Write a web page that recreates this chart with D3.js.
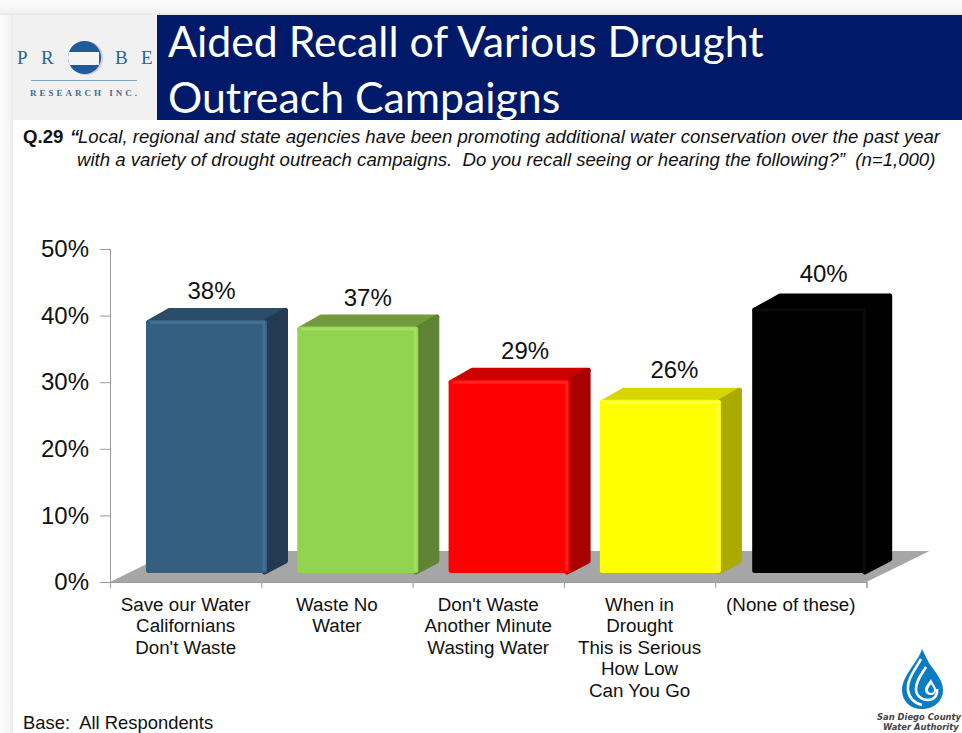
<!DOCTYPE html>
<html><head><meta charset="utf-8">
<script src="https://cdn.jsdelivr.net/npm/d3@7"></script>
<style>html,body{margin:0;padding:0;background:#fff;overflow:hidden}svg{display:block}text{font-family:"Liberation Sans",Arial,sans-serif;fill:#111;white-space:pre}</style>
</head><body><svg id="c" width="962" height="733"></svg>
<script>
const categories=[["Save our Water","Californians","Don't Waste"],["Waste No","Water"],["Don't Waste","Another Minute","Wasting Water"],["When in","Drought","This is Serious","How Low","Can You Go"],["(None of these)"]];
const values=[38,37,29,26,40];
const yTicks=[0,10,20,30,40,50];
const palette=[
 {front:"#355f80",top:"#2b4c69",side:"#243a53",hi:"#4a7396"},
 {front:"#92d350",top:"#739a3c",side:"#5f8433",hi:"#a9e566"},
 {front:"#ff0000",top:"#cc0000",side:"#a80000",hi:"#ff2a2a"},
 {front:"#ffff00",top:"#d6d600",side:"#aaaa00",hi:"#ffff50"},
 {front:"#000000",top:"#000000",side:"#000000",hi:"#0e0e0e"}];
const labelShift=[5,10,16,14,14];
const labelLift=[21,21,21,22,26];
const titleLines=["Aided Recall of Various Drought","Outreach Campaigns"];
const questionLines=["Local, regional and state agencies have been promoting additional water conservation over the past year","with a variety of drought outreach campaigns.  Do you recall seeing or hearing the following?”  (n=1,000)"];

const svg=d3.select("#c");
const defs=svg.append("defs");
const g1=defs.append("linearGradient").attr("id","fadeT").attr("x1",0).attr("x2",0).attr("y1",0).attr("y2",1);
g1.append("stop").attr("offset",0).attr("stop-color","#fbfbfb");g1.append("stop").attr("offset",.8).attr("stop-color","#f3f3f3");g1.append("stop").attr("offset",1).attr("stop-color","#e6e6e6");
const g2=defs.append("linearGradient").attr("id","fadeL");
g2.append("stop").attr("offset",0).attr("stop-color","#fdfdfd");g2.append("stop").attr("offset",.75).attr("stop-color","#f4f4f4");g2.append("stop").attr("offset",1).attr("stop-color","#e8e8e8");
defs.append("clipPath").attr("id","ball").append("circle").attr("cx",84.5).attr("cy",57.5).attr("r",16.5);

// page frame
svg.append("rect").attr("width",13).attr("height",733).attr("fill","url(#fadeL)");
svg.append("rect").attr("x",0).attr("width",962).attr("height",15).attr("fill","url(#fadeT)");
// header
svg.append("rect").attr("x",13).attr("y",15).attr("width",144).attr("height",105).attr("fill","#f1f1f1");
svg.append("rect").attr("x",157).attr("y",15).attr("width",805).attr("height",105).attr("fill","#001a69");
svg.selectAll("text.t").data(titleLines).join("text").attr("class","t").attr("x",168).attr("y",(d,i)=>57+i*56)
  .text(d=>d).style("font-family","Lato").style("font-size","42.8px").style("fill","#fff");

// probe logo
const logo=svg.append("g");
[["P",17],["R",41],["B",115],["E",141]].forEach(([s,x])=>logo.append("text").attr("x",x).attr("y",64).text(s)
  .style("font-family","Liberation Serif").style("font-size","19px").style("fill","#2a6496"));
logo.append("circle").attr("cx",86).attr("cy",58).attr("r",17).attr("fill","#c9c8e0");
logo.append("circle").attr("cx",84.5).attr("cy",57.5).attr("r",16.5).attr("fill","#1f5b99");
logo.append("rect").attr("x",66).attr("y",52).attr("width",33).attr("height",13).attr("fill","#f4f4f4").attr("clip-path","url(#ball)");
logo.append("line").attr("x1",31).attr("x2",137).attr("y1",80.5).attr("y2",80.5).attr("stroke","#7fa6cb");
logo.append("text").attr("x",30).attr("y",96).text("RESEARCH INC.").style("font-family","Liberation Serif").style("font-weight","bold").style("font-size","9px").style("letter-spacing","3px").style("fill","#4a6a96");

// question
svg.append("text").attr("x",23).attr("y",143).text("Q.29").style("font-weight","bold").style("font-size","18.6px");
svg.append("text").attr("x",70).attr("y",143).text("“").style("font-weight","bold").style("font-style","italic").style("font-size","18.6px");
svg.selectAll("text.q").data(questionLines).join("text").attr("class","q").attr("x",(d,i)=>i?77:78).attr("y",(d,i)=>143+i*23)
  .text(d=>d).style("font-style","italic").style("font-size","18.6px");

// scales
const y=d3.scaleLinear().domain([0,50]).range([582,249]);
const x=d3.scaleBand().domain(d3.range(values.length)).range([110,866.5]);
const floorDx=63,floorDy=31,barInset=36,barW=121,lift=9;

// floor
svg.append("path").attr("d",d3.line()([[x.range()[0],y(0)],[x.range()[1],y(0)],[x.range()[1]+floorDx,y(0)-floorDy],[x.range()[0]+floorDx,y(0)-floorDy]])+"Z").attr("fill","#a6a6a6");

// axes
const yAxis=d3.axisLeft(y).tickValues(yTicks).tickSize(10).tickPadding(11).tickFormat(d=>d+"%");
const ya=svg.append("g").attr("transform","translate(110,0)").call(yAxis);
ya.selectAll("path,line").attr("stroke","#9a9a9a");
ya.selectAll("text").style("font-size","24px").style("fill","#111");
const xAxis=d3.axisBottom(d3.scaleLinear().domain([0,5]).range(x.range())).ticks(5).tickSize(6).tickFormat("");
const xa=svg.append("g").attr("transform",`translate(0,${y(0)})`).call(xAxis);
xa.selectAll("path,line").attr("stroke","#9a9a9a");

// bars
const bars=svg.selectAll("g.bar").data(values).join("g").attr("class","bar");
bars.each(function(v,i){
  const g=d3.select(this),c=palette[i],last=i==4;
  const x0=x(i)+barInset+(last?1:0),x1=x0+(last?115:barW),yb=y(0)-lift,yt=y(v)-lift+(last?1:0);
  const dX=last?25:21,dY=last?14:12,r=2.5;
  const poly=(pts,fill)=>g.append("path").attr("d",d3.line()(pts)+"Z").attr("fill",fill).attr("stroke",fill).attr("stroke-width",2*r).attr("stroke-linejoin","round");
  poly([[x0+r,yt+r],[x0+dX+r,yt-dY+r],[x1+dX-r,yt-dY+r],[x1-r,yt+r]],c.top);
  poly([[x1-r,yt+r],[x1+dX-r,yt-dY+r],[x1+dX-r,yb-dY],[x1-r,yb-1]],c.side);
  poly([[x0+r,yt+r],[x1-r,yt+r],[x1-r,yb-r],[x0+r,yb-r]],c.front);
  g.append("path").attr("d",`M${x0+4},${yt+2.5}H${x1-3}V${yb-2}`).attr("fill","none").attr("stroke",c.hi).attr("stroke-width",3).attr("stroke-linejoin","round").attr("opacity",.8);
  g.append("text").attr("x",(x0+x1)/2+labelShift[i]).attr("y",yt-labelLift[i]).attr("text-anchor","middle").text(v+"%").style("font-size","24px");
});

// category labels
const cats=svg.selectAll("g.cat").data(categories).join("g").attr("class","cat");
cats.each(function(lines,i){
  d3.select(this).selectAll("text").data(lines).join("text").attr("x",x(i)+x.bandwidth()/2).attr("y",(d,j)=>610.5+j*21.6)
    .attr("text-anchor","middle").text(d=>d).style("font-size","18.8px");
});

svg.append("text").attr("x",23).attr("y",729).text("Base:  All Respondents").style("font-size","18.4px");

// water authority logo
const wa=svg.append("g");
wa.append("path").attr("d","M922,649 C918,662 902,676 902,690 C902,702 911,709 922,709 C933,709 943,702 943,690 C943,680 935,672 929,663 Z").attr("fill","#0a7cc4");
wa.append("path").attr("d","M921,659 C914,671 907,680 908,690 C909,698 915,703 922,705").attr("fill","none").attr("stroke","#fff").attr("stroke-width",2.6);
wa.append("path").attr("d","M926,667 C921,675 916,681 916,689 C916,696 922,700 928,700 C934,700 938,695 937,689").attr("fill","none").attr("stroke","#fff").attr("stroke-width",2.6);
wa.append("path").attr("d","M931,679 C928,684 925,686 925,690 C925,693 928,695 931,695 C934,695 936,693 936,690 C936,686 933,684 931,679 Z").attr("fill","#fff");
wa.append("path").attr("d","M931,684 C929,687 928,688 928,690 C928,692 929.5,693 931,693 C932.5,693 934,692 934,690 C934,688 933,687 931,684 Z").attr("fill","#0a7cc4");
["San Diego County","Water Authority"].forEach((s,i)=>wa.append("text").attr("x",[877,883][i]).attr("y",720+i*10).text(s)
  .style("font-family","DejaVu Sans").style("font-weight","bold").style("font-style","italic").style("font-size","8.4px").style("fill","#444"));
</script></body></html>
